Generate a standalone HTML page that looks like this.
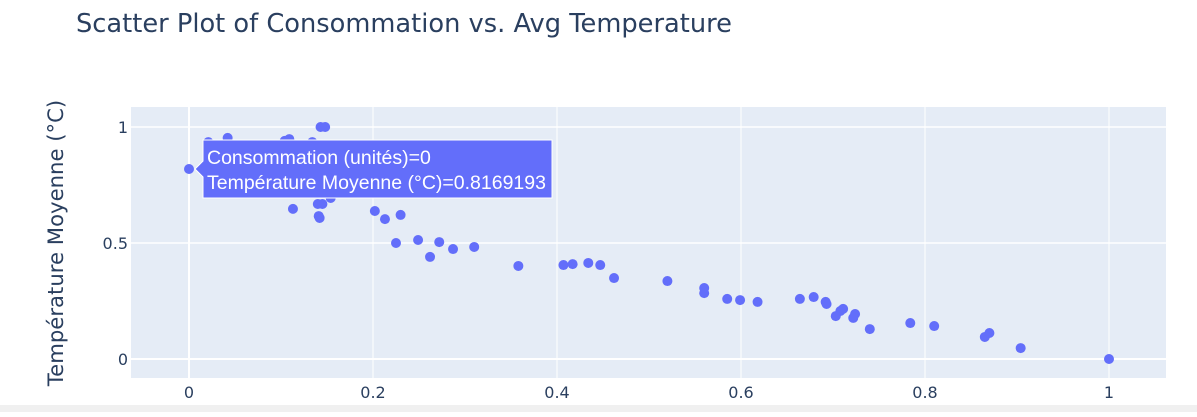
<!DOCTYPE html>
<html><head><meta charset="utf-8"><style>
body{margin:0;background:#fff;width:1197px;height:412px;overflow:hidden;font-family:"Liberation Sans",Arial,sans-serif}
</style></head><body>
<svg id="chart" width="1197" height="412" xmlns="http://www.w3.org/2000/svg">
<text x="76" y="32" font-size="25.7" fill="#2a3f5f" font-family="DejaVu Sans, sans-serif">Scatter Plot of Consommation vs. Avg Temperature</text>
<rect x="131" y="107" width="1035" height="271" fill="#e5ecf6"/>
<g id="grid"></g>
<g id="marks"></g>
<g id="ticks" font-size="16" fill="#2a3f5f" font-family="DejaVu Sans, sans-serif"></g>
<text transform="translate(63,243) rotate(-90)" text-anchor="middle" font-size="21.2" fill="#2a3f5f" font-family="DejaVu Sans, sans-serif">Température Moyenne (°C)</text>
<g>
<path d="M195,169 L203,161 L203,140 L552,140 L552,198 L203,198 L203,177 Z" fill="#636efa" stroke="#fff" stroke-width="1"/>
<text x="207" y="164" font-size="19.5" fill="#fff">Consommation (unités)=0</text>
<text x="207" y="189" font-size="19.5" fill="#fff">Température Moyenne (°C)=0.8169193</text>
</g>
<rect x="0" y="405" width="1197" height="7" fill="#f0f0f0"/>
</svg>
<script>
const xValues=[0,0.021,0.042,0.104,0.109,0.134,0.143,0.148,0.154,0.140,0.145,0.113,0.141,0.142,0.202,0.213,0.230,0.225,0.249,0.272,0.262,0.287,0.310,0.358,0.407,0.417,0.434,0.447,0.462,0.520,0.560,0.560,0.585,0.599,0.618,0.664,0.679,0.692,0.693,0.708,0.711,0.703,0.724,0.722,0.740,0.784,0.810,0.865,0.870,0.904,1.0];
const yValues=[0.819,0.935,0.953,0.940,0.948,0.935,1.0,1.0,0.694,0.668,0.668,0.647,0.616,0.608,0.638,0.603,0.621,0.500,0.513,0.504,0.440,0.474,0.483,0.401,0.405,0.409,0.414,0.405,0.349,0.336,0.306,0.284,0.259,0.254,0.246,0.259,0.267,0.246,0.237,0.207,0.216,0.185,0.194,0.177,0.129,0.155,0.142,0.095,0.112,0.047,0.0];
const xTicks=[0,0.2,0.4,0.6,0.8,1];
const xTickLabels=["0","0.2","0.4","0.6","0.8","1"];
const yTicks=[0,0.5,1];
const yTickLabels=["0","0.5","1"];
const NS="http://www.w3.org/2000/svg";
const xs=v=>189+v*920;
const ys=v=>359-v*232;
const grid=document.getElementById('grid'),marks=document.getElementById('marks'),ticks=document.getElementById('ticks');
xTicks.forEach((t,i)=>{
 const l=document.createElementNS(NS,'line');
 
 
 l.setAttribute('x1',xs(t));l.setAttribute('x2',xs(t));l.setAttribute('y1',107);l.setAttribute('y2',378);
 l.setAttribute('stroke','#fff');l.setAttribute('stroke-width',t===0?2:1);
 grid.appendChild(l);
 const tx=document.createElementNS(NS,'text');
 
 
 tx.setAttribute('x',xs(t));tx.setAttribute('y',398);tx.setAttribute('text-anchor','middle');
 tx.textContent=xTickLabels[i];ticks.appendChild(tx);
});
yTicks.forEach((t,i)=>{
 const l=document.createElementNS(NS,'line');
 
 
 l.setAttribute('x1',131);l.setAttribute('x2',1166);l.setAttribute('y1',ys(t));l.setAttribute('y2',ys(t));
 l.setAttribute('stroke','#fff');l.setAttribute('stroke-width',t===0?2:1.5);
 grid.appendChild(l);
 const tx=document.createElementNS(NS,'text');
 
 
 tx.setAttribute('x',128);tx.setAttribute('y',ys(t)+6);tx.setAttribute('text-anchor','end');
 tx.textContent=yTickLabels[i];ticks.appendChild(tx);
});
xValues.forEach((x,i)=>{
 const c=document.createElementNS(NS,'circle');
 
 
 c.setAttribute('cx',xs(x));c.setAttribute('cy',ys(yValues[i]));c.setAttribute('r',5);
 c.setAttribute('fill','#636efa');
 marks.appendChild(c);
});
</script>
</body></html>
